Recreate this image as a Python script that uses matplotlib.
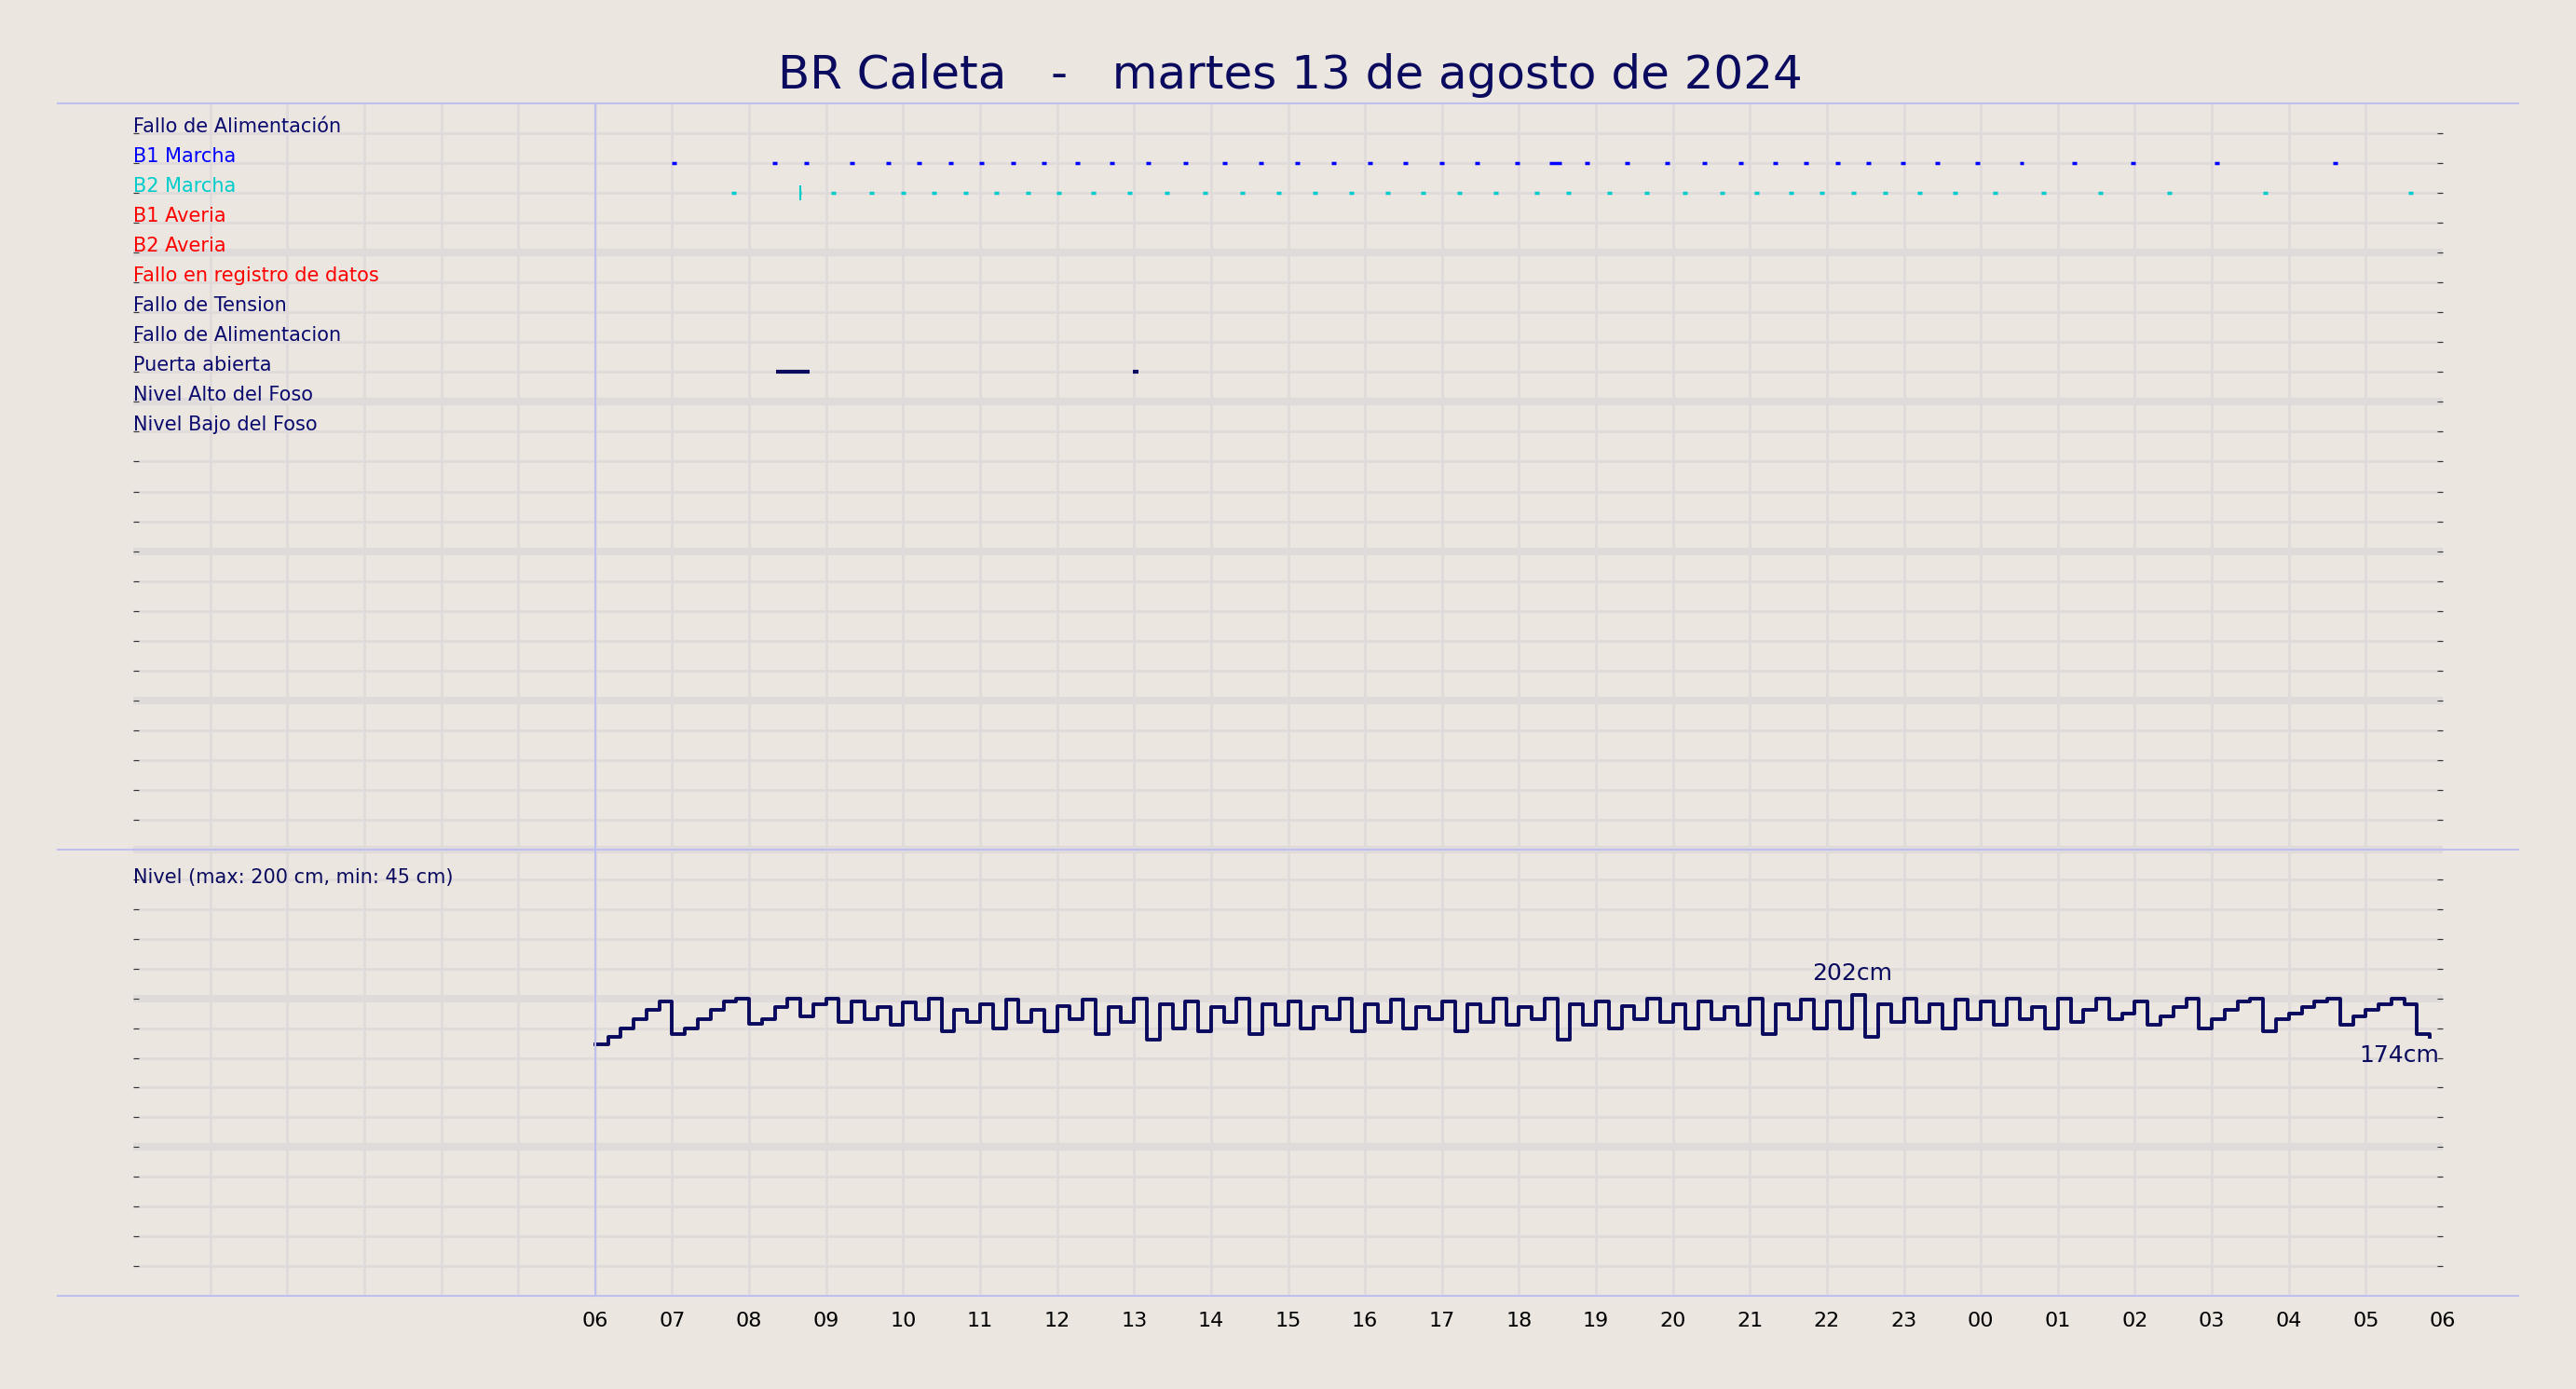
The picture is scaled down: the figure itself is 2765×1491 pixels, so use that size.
import numpy as np
import matplotlib
matplotlib.use("Agg")
import matplotlib.pyplot as plt

title = "BR Caleta   -   martes 13 de agosto de 2024"
labels = ["Fallo de Alimentación", "B1 Marcha", "B2 Marcha", "B1 Averia", "B2 Averia",
          "Fallo en registro de datos", "Fallo de Tension", "Fallo de Alimentacion",
          "Puerta abierta", "Nivel Alto del Foso", "Nivel Bajo del Foso"]
label_colors = ["#0a0a6e", "#0000ff", "#00cccc", "#ff0000", "#ff0000", "#ff0000",
                "#0a0a6e", "#0a0a6e", "#0a0a6e", "#0a0a6e", "#0a0a6e"]
tick_labels = ["06", "07", "08", "09", "10", "11", "12", "13", "14", "15", "16", "17", "18",
               "19", "20", "21", "22", "23", "00", "01", "02", "03", "04", "05", "06"]

b1_on = [7.00, 8.30, 8.71, 9.31, 9.78, 10.18, 10.59, 10.99, 11.40, 11.80, 12.23, 12.68, 13.15,
         13.64, 14.15, 14.62, 15.09, 15.56, 16.03, 16.50, 16.97, 17.43, 17.95, 18.40, 18.86,
         19.38, 19.89, 20.38, 20.85, 21.30, 21.70, 22.11, 22.51, 22.96, 23.41, 23.92, 24.50,
         25.18, 25.95, 27.03, 28.57]
b1_dur = [0.06] * 23 + [0.15] + [0.06] * 17
b2_on = [7.77, 8.67, 9.07, 9.56, 9.97, 10.37, 10.78, 11.18, 11.59, 11.99, 12.44, 12.91, 13.40,
         13.89, 14.38, 14.85, 15.32, 15.79, 16.26, 16.73, 17.20, 17.67, 18.20, 18.61, 19.14,
         19.63, 20.12, 20.61, 21.06, 21.51, 21.91, 22.32, 22.73, 23.17, 23.64, 24.15, 24.79,
         25.52, 26.42, 27.67, 29.55]
b2_dur = [0.06] * 41
b2_dur[1] = 0.005
door_on = [8.35, 12.98]
door_dur = [0.44, 0.08]

level = [169, 174, 180, 186, 192, 198,
         176, 180, 186, 192, 198, 200,
         183, 186, 194, 200, 188, 196,
         200, 184, 198, 186, 194, 182,
         197, 186, 200, 178, 192, 184,
         196, 180, 199, 184, 192, 178,
         195, 186, 199, 176, 194, 184,
         200, 172, 196, 180, 198, 178,
         194, 184, 200, 176, 196, 182,
         198, 180, 194, 186, 200, 178,
         196, 184, 199, 180, 194, 186,
         198, 178, 196, 184, 200, 182,
         194, 186, 200, 172, 196, 182,
         198, 180, 195, 186, 200, 184,
         196, 180, 198, 186, 194, 182,
         200, 176, 196, 186, 199, 180,
         198, 180, 202, 174, 196, 184,
         200, 184, 196, 180, 199, 186,
         198, 182, 200, 186, 194, 180,
         200, 184, 192, 200, 186, 190,
         198, 182, 188, 194, 200, 180,
         186, 192, 198, 200, 178, 186,
         190, 194, 198, 200, 182, 188,
         192, 196, 200, 196, 176, 174]
level_t = 6 + np.arange(len(level)) / 6.0

bg = "#ebe6e0"
navy = "#0a0a5e"
W, H = 2765, 1491
fig = plt.figure(figsize=(W / 100, H / 100), dpi=100, facecolor=bg)

x0, x1 = 143 / W, 2622 / W
top_y0, top_y1 = 1 - 912 / H, 1 - 111 / H
bot_y0, bot_y1 = 1 - 1391 / H, 1 - 912 / H
ax1 = fig.add_axes([x0, top_y0, x1 - x0, top_y1 - top_y0], facecolor=bg)
ax2 = fig.add_axes([x0, bot_y0, x1 - x0, bot_y1 - bot_y0], facecolor=bg)

gridc = "#e0dbdb"
for ax, nrows in ((ax1, 25), (ax2, 15)):
    ax.set_xlim(0, 30)
    for s in ax.spines.values():
        s.set_visible(False)
    for h in range(1, 30):
        ax.axvline(h, color=gridc, lw=2, zorder=0)
    for r in range(1, nrows + 1):
        ax.axhline(r, color=gridc, lw=6 if r % 5 == 0 else 2, zorder=0)
    ax.set_yticks(range(1, nrows))
    ax.set_yticklabels([])
    ax.tick_params(axis="y", direction="in", length=4, color="#333333", left=True, right=True)
    ax.set_xticks([])

ax1.set_ylim(25, 0)
ax2.set_ylim(0, 15)

for i, (lab, c) in enumerate(zip(labels, label_colors)):
    ax1.text(0.0, i + 1.08, lab, color=c, fontsize=15, va="bottom", ha="left")

ax1.hlines([2] * len(b1_on), b1_on, np.array(b1_on) + np.array(b1_dur), color="#0000ff", lw=2.5)
ax1.hlines([3] * len(b2_on), b2_on, np.array(b2_on) + np.array(b2_dur), color="#00cccc", lw=2.5)
ax1.vlines([b2_on[1]], 2.75, 3.25, color="#00cccc", lw=1.5)
ax1.hlines([9] * len(door_on), door_on, np.array(door_on) + np.array(door_dur), color=navy, lw=3)

ax2.text(0.0, 13.75, "Nivel (max: 200 cm, min: 45 cm)", color=navy, fontsize=15, va="bottom")
ax2.step(level_t, np.array(level) / 20.0, where="post", color=navy, lw=2.8, zorder=3)
imax = int(np.argmax(level))
ax2.text(level_t[imax], level[imax] / 20.0 + 0.35, f"{level[imax]}cm", color=navy,
         fontsize=18, ha="center", va="bottom")
ax2.text(29.95, level[-1] / 20.0 - 0.25, f"{level[-1]}cm", color=navy, fontsize=18,
         ha="right", va="top")

# frame lines
for yy in (111, 912, 1391):
    fig.add_artist(plt.Line2D([62 / W, 2703 / W], [1 - yy / H] * 2, color="#c0c0f0", lw=1.5))
vx = x0 + (x1 - x0) * 6 / 30
fig.add_artist(plt.Line2D([vx, vx], [bot_y0, top_y1], color="#c0c0f0", lw=1.5))

for k, t in enumerate(tick_labels):
    xx = x0 + (x1 - x0) * (6 + k) / 30
    fig.text(xx, 1 - 1418 / H, t, ha="center", va="center", fontsize=16, color="black")

fig.text(0.5 + 2 / W, 1 - 81 / H, title, ha="center", va="center", fontsize=36, color=navy)
fig.savefig("out.png", dpi=100, facecolor=bg)
